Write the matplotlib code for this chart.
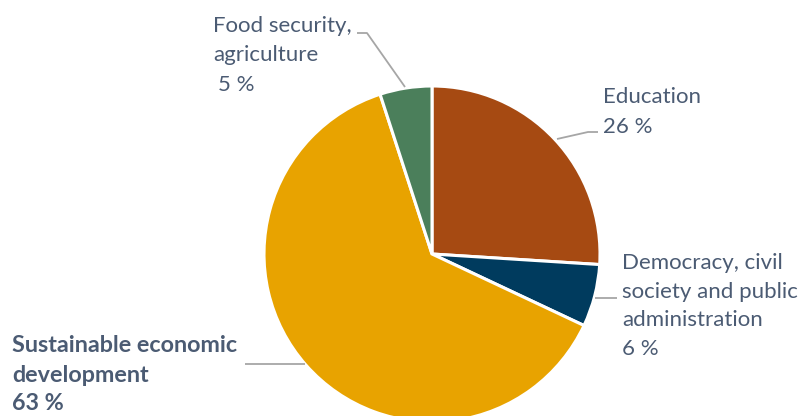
import numpy as np
import matplotlib.pyplot as plt

labels = ["Education", "Democracy, civil\nsociety and public\nadministration",
          "Sustainable economic\ndevelopment", "Food security,\nagriculture"]
pct_labels = ["26 %", "6 %", "63 %", "5 %"]
shares = [26, 6, 63, 5]
colors = ["#A64A12", "#003B5E", "#E8A300", "#4B7F5B"]

txt_col = "#4B5B73"
line_col = "#A6A6A6"
H = 416

fig = plt.figure(figsize=(8.02, 4.16), dpi=100)
ax = fig.add_axes([0, 0, 1, 1])
ax.pie(shares, colors=colors, startangle=90, counterclock=False,
       center=(432, H - 254), radius=168, frame=True,
       wedgeprops=dict(edgecolor="white", linewidth=2.2))
ax.set_xlim(0, 802)
ax.set_ylim(0, H)
ax.set_aspect("equal")
ax.axis("off")

fam = "Lato"

def label(x, ys, lines, bold=False):
    for y, t in zip(ys, lines):
        ax.text(x, H - y, t, fontsize=16.8 if bold else 16, color=txt_col, family=fam,
                va="center", ha="left", fontweight="bold" if bold else "normal")

label(213, [26, 55], labels[3].split("\n"))
label(218, [85], [pct_labels[3]])
label(603, [97, 127], [labels[0], pct_labels[0]])
label(622, [263, 292, 320, 349], labels[1].split("\n") + [pct_labels[1]])
label(12, [345, 375, 404], labels[2].split("\n") + [pct_labels[2]], bold=True)

# leader lines
def leader(xs, ys):
    ax.plot(xs, [H - y for y in ys], color=line_col, lw=1.3, solid_capstyle="butt")

leader([357, 367, 405], [33, 33, 87])
leader([557, 588, 598], [139, 132, 132])
leader([595, 617], [298, 298])
leader([245, 305], [364, 364])

fig.savefig("out.png", dpi=100)
